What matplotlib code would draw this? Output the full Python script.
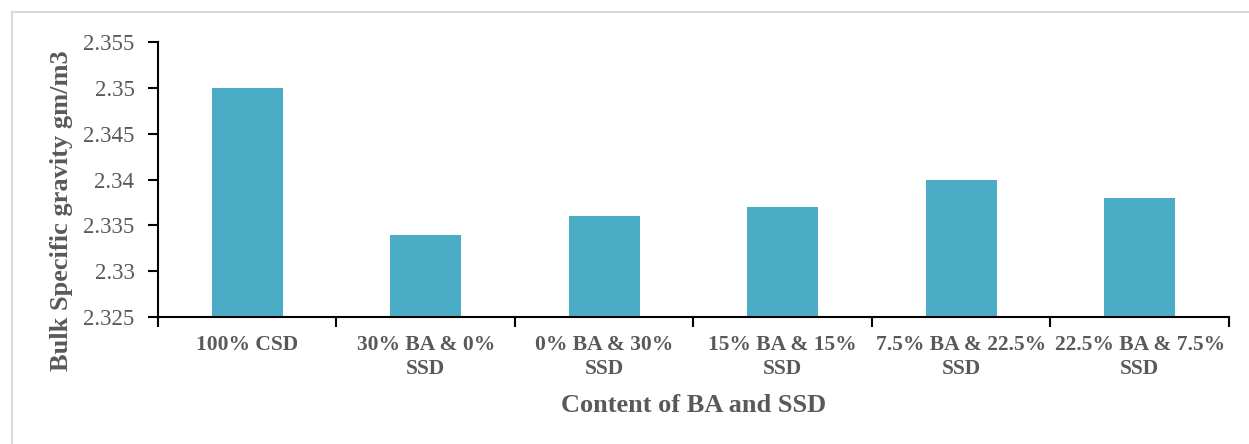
import matplotlib
matplotlib.use("Agg")
import matplotlib.pyplot as plt
from matplotlib.patches import Rectangle

categories = ["100% CSD", "30% BA & 0%\nSSD", "0% BA & 30%\nSSD",
              "15% BA & 15%\nSSD", "7.5% BA & 22.5%\nSSD", "22.5% BA & 7.5%\nSSD"]
gravity = [2.350, 2.334, 2.336, 2.337, 2.340, 2.338]
y_ticks = [2.325, 2.33, 2.335, 2.34, 2.345, 2.35, 2.355]
y_tick_labels = ["2.325", "2.33", "2.335", "2.34", "2.345", "2.35", "2.355"]

plt.rcParams["font.family"] = ["Liberation Serif", "DejaVu Serif"]
text_color = "#595959"

W, H = 1249, 444
fig = plt.figure(figsize=(W / 100, H / 100), dpi=100)

# light frame around the chart area
fig.patches.append(Rectangle((12 / W, -0.05), 1.1, 1 - 12 / H + 0.05,
                             transform=fig.transFigure, fill=False,
                             edgecolor="#D9D9D9", linewidth=1.5))

ax = fig.add_axes([158 / W, 1 - 317 / H, (1229 - 158) / W, (317 - 42) / H])
x = list(range(len(categories)))
ax.bar(x, gravity, width=0.4, color="#4BACC6", zorder=2)

ax.set_xlim(-0.5, len(categories) - 0.5)
ax.set_ylim(2.325, 2.355)
ax.set_yticks(y_ticks)
ax.set_yticklabels(y_tick_labels, fontsize=16.5, color=text_color)

# category labels centred between boundary ticks
ax.set_xticks([i - 0.5 for i in range(len(categories) + 1)])
ax.set_xticklabels([])
ax.set_xticks(x, minor=True)
ax.set_xticklabels(categories, minor=True, fontsize=15.5, fontweight="bold",
                   color=text_color, linespacing=1.25)
ax.tick_params(axis="x", which="minor", length=0, pad=13)
ax.tick_params(axis="x", which="major", length=7, width=1.5, direction="out")
ax.tick_params(axis="y", length=7, width=1.5, direction="out", pad=10)

for side in ["top", "right"]:
    ax.spines[side].set_visible(False)
for side in ["left", "bottom"]:
    ax.spines[side].set_linewidth(1.5)
    ax.spines[side].set_color("black")

fig.text(62 / W, 1 - 211 / H, "Bulk Specific gravity gm/m3", rotation=90,
         ha="center", va="center", fontsize=19, fontweight="bold", color=text_color)
fig.text(694 / W, 1 - 405 / H, "Content of BA and SSD",
         ha="center", va="center", fontsize=19, fontweight="bold", color=text_color)

fig.savefig("out.png", dpi=100, facecolor="white")
